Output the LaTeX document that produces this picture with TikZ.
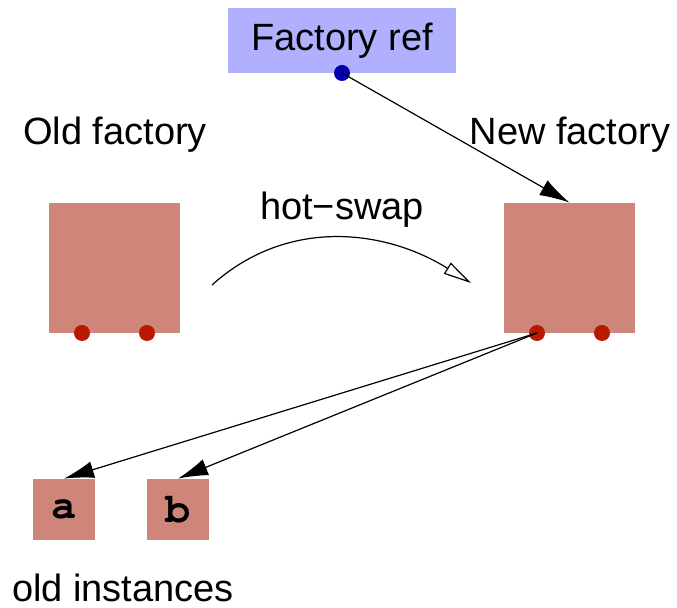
\documentclass[tikz,border=0pt]{standalone}
\usepackage{fontspec}
\setmainfont{Liberation Sans}
\newfontfamily\codefont{TeX Gyre Cursor}
\usetikzlibrary{arrows.meta}
\definecolor{boxred}{HTML}{CE857A}
\definecolor{pinred}{HTML}{B71A00}
\definecolor{reflav}{HTML}{B0B0FF}
\definecolor{refblue}{HTML}{0000B0}
\tikzset{
  factorybox/.style={fill=boxred, inner sep=0pt, minimum width=65.5pt, minimum height=65pt},
  instbox/.style={fill=boxred, inner sep=0pt, minimum width=31pt, minimum height=30.5pt, font=\codefont\bfseries\fontsize{21}{24}\selectfont},
  reflabel/.style={fill=reflav, inner sep=0pt, minimum width=114pt, minimum height=32.5pt},
  caption/.style={font=\fontsize{19}{22}\selectfont},
  pin/.style={circle, fill=pinred, inner sep=0pt, minimum size=8pt},
  refpin/.style={circle, fill=refblue, inner sep=0pt, minimum size=8pt},
  link/.style={-{Latex[length=15pt,width=8.5pt]}, line width=0.6pt},
  swap/.style={-{Triangle[open,length=14pt,width=6.5pt]}, line width=0.6pt}
}
\begin{document}
\begin{tikzpicture}[x=0.5pt, y=-0.5pt, font=\fontsize{19}{22}\selectfont]
\useasboundingbox (0,0) rectangle (677,608);

% factory reference
\node[reflabel] (ref) at (342,40.5) {Factory ref};
\node[refpin] (refdot) at (342,73) {};

% labels
\node[caption] (oldlbl) at (115,135) {Old factory};
\node[caption] (newlbl) at (570,135) {New factory};
\node[caption] (swaplbl) at (342,210) {hot−swap};
\node[caption] (instlbl) at (123,588) {old instances};

% factories
\node[factorybox] (old) at (114.5,268) {};
\node[factorybox] (new) at (569.5,268) {};
\node[pin] (oldp1) at (82,333) {};
\node[pin] (oldp2) at (147,333) {};
\node[pin] (newp1) at (537,333) {};
\node[pin] (newp2) at (602,333) {};

% instances
\node[instbox] (a) at (64,509.5) {a};
\node[instbox] (b) at (178,509.5) {b};

% hot-swap curve
\coordinate (swapfrom) at (212,285);
\coordinate (swapto) at (471,283);
\draw[swap] (swapfrom) to[out=42, in=148] (swapto);

% connectors
\draw[link] (refdot.center) -- (new.north);
\draw[link] (newp1.center) -- (a.north);
\draw[link] (newp1.center) -- (b.north);
\end{tikzpicture}
\end{document}
